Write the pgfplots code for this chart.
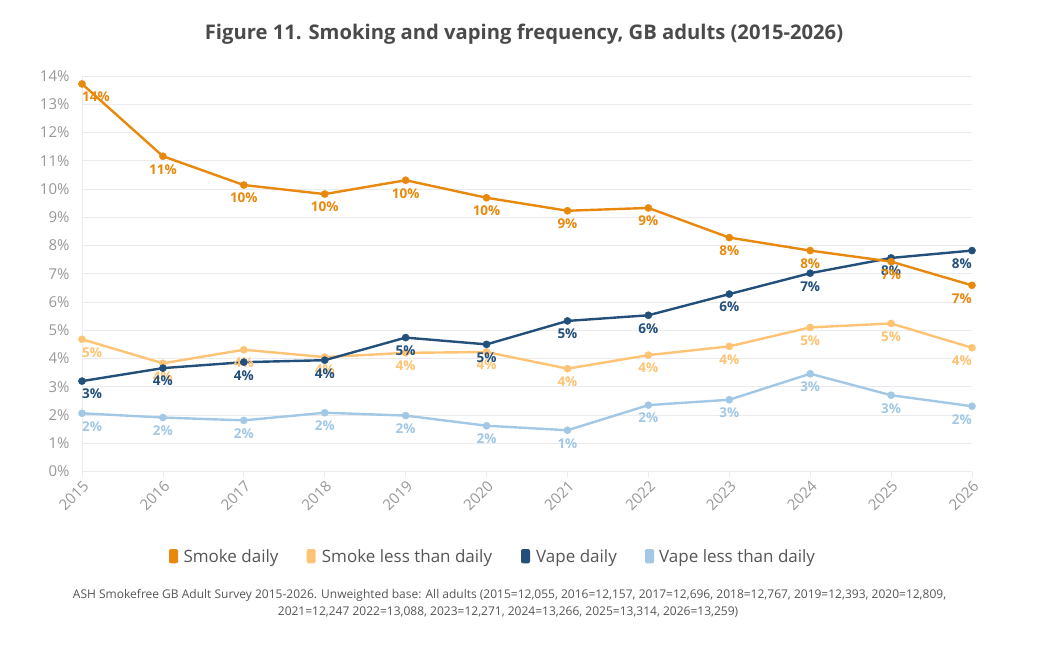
\documentclass[border=0pt]{standalone}
\usepackage{pgfplots}
\pgfplotsset{compat=1.18}
\usepackage{fontspec}
\setmainfont{Open Sans}
\definecolor{smokeD}{HTML}{E8890E}
\definecolor{smokeL}{HTML}{FEC374}
\definecolor{vapeD}{HTML}{22507A}
\definecolor{vapeL}{HTML}{A2C8E6}
\definecolor{titlegray}{HTML}{4A4A4A}
\definecolor{tickgray}{HTML}{979797}
\definecolor{textgray}{HTML}{555555}
\definecolor{gridgray}{HTML}{EBEBEB}
\pgfplotsset{
  series/.style={
    color=#1, line width=2.4pt, mark=*, mark size=3.6pt,
    mark options={solid, fill=#1, draw=#1, line width=0.4pt},
    point meta=y,
    visualization depends on={value {\ifnum\coordindex=0 west\else\ifnum\coordindex=11 east\else center\fi\fi} \as \myanchor},
    nodes near coords={\pgfmathprintnumber[fixed,precision=0]{\pgfplotspointmeta}\%},
    every node near coord/.append style={font=\bfseries\fontsize{13.5}{13.5}\selectfont, text=#1, anchor=\myanchor, yshift=-13pt, inner sep=0pt},
  }
}
\begin{document}
\begin{tikzpicture}[x=1pt,y=1pt]
\useasboundingbox (0,0) rectangle (1049,649);
\begin{axis}[
  at={(82pt,177.5pt)}, anchor=south west,
  scale only axis, width=890pt, height=395.5pt,
  xmin=0, xmax=11, ymin=0, ymax=14,
  clip=false,
  axis x line*=bottom, axis y line*=left,
  axis line style={draw=gridgray, line width=0.8pt},
  xtick={0,...,11},
  xticklabels={2015,2016,2017,2018,2019,2020,2021,2022,2023,2024,2025,2026},
  ytick={0,...,14},
  yticklabel={\pgfmathprintnumber{\tick}\%},
  /pgf/number format/assume math mode=true,
  tick align=outside, major tick length=5pt,
  xtick style={draw=gridgray, line width=0.8pt},
  ytick style={draw=none},
  ymajorgrids, major grid style={draw=gridgray, line width=0.8pt},
  ticklabel style={font=\fontsize{15}{15}\selectfont, text=tickgray},
  xticklabel style={rotate=45, anchor=north east, inner sep=2pt},
  yticklabel style={xshift=-4pt},
]
\addplot[series=vapeL] coordinates {(0,2.06)(1,1.91)(2,1.81)(3,2.08)(4,1.98)(5,1.62)(6,1.46)(7,2.35)(8,2.54)(9,3.46)(10,2.70)(11,2.31)};
\addplot[series=smokeL] coordinates {(0,4.68)(1,3.83)(2,4.31)(3,4.05)(4,4.20)(5,4.23)(6,3.64)(7,4.12)(8,4.43)(9,5.10)(10,5.24)(11,4.38)};
\addplot[series=vapeD] coordinates {(0,3.20)(1,3.66)(2,3.87)(3,3.94)(4,4.74)(5,4.50)(6,5.33)(7,5.53)(8,6.28)(9,7.02)(10,7.56)(11,7.82)};
\addplot[series=smokeD] coordinates {(0,13.72)(1,11.16)(2,10.14)(3,9.82)(4,10.31)(5,9.69)(6,9.23)(7,9.33)(8,8.28)(9,7.82)(10,7.43)(11,6.59)};
\end{axis}
% title
\node[anchor=base, inner sep=0pt, text=titlegray, font=\bfseries\fontsize{20.2}{20.2}\selectfont] at (524,609) {Figure 11. Smoking and vaping frequency, GB adults (2015-2026)};
% legend
\fill[smokeD, rounded corners=2pt] (169,85.7) rectangle (178,100);
\node[anchor=base west, inner sep=0pt, text=textgray, font=\fontsize{17}{17}\selectfont] at (183.3,86.3) {Smoke daily};
\fill[smokeL, rounded corners=2pt] (306.7,85.7) rectangle (315.7,100);
\node[anchor=base west, inner sep=0pt, text=textgray, font=\fontsize{17}{17}\selectfont] at (321.7,86.3) {Smoke less than daily};
\fill[vapeD, rounded corners=2pt] (521,85.7) rectangle (530,100);
\node[anchor=base west, inner sep=0pt, text=textgray, font=\fontsize{17}{17}\selectfont] at (536,86.3) {Vape daily};
\fill[vapeL, rounded corners=2pt] (645,85.7) rectangle (654,100);
\node[anchor=base west, inner sep=0pt, text=textgray, font=\fontsize{17}{17}\selectfont] at (659,86.3) {Vape less than daily};
% footnote
\node[anchor=base, inner sep=0pt, text=textgray, font=\fontsize{12}{12}\selectfont] at (509.5,50.7) {ASH Smokefree GB Adult Survey 2015-2026. Unweighted base: All adults (2015=12,055, 2016=12,157, 2017=12,696, 2018=12,767, 2019=12,393, 2020=12,809,};
\node[anchor=base, inner sep=0pt, text=textgray, font=\fontsize{12}{12}\selectfont] at (508,34) {2021=12,247 2022=13,088, 2023=12,271, 2024=13,266, 2025=13,314, 2026=13,259)};
\end{tikzpicture}
\end{document}
